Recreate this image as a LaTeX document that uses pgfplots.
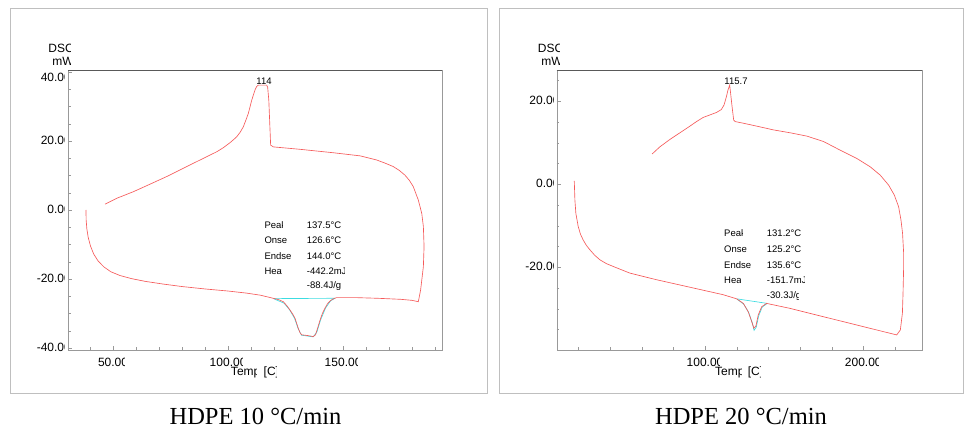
\documentclass[border=0pt]{standalone}
\usepackage{fontspec}
\setmainfont{Liberation Sans}
\newfontfamily\serif{Liberation Serif}
\usepackage{pgfplots}
\pgfplotsset{compat=1.18}

\definecolor{dscred}{RGB}{245,90,90}
\definecolor{dsccyan}{RGB}{60,220,225}

% text cut off on the right, as the instrument software does
\newlength\clpw
\newlength\clpf
\newcommand{\clp}[2][3.5bp]{%
  \settowidth{\clpf}{#2}\setlength{\clpw}{\clpf}\addtolength{\clpw}{-#1}%
  \tikz[baseline=0pt]{\path[use as bounding box] (0,-0.25em) rectangle (\clpf,0.85em);
    \clip (0,-0.4em) rectangle (\clpw,1.1em);
    \node[anchor=base west,inner sep=0pt,outer sep=0pt] at (0,0) {#2};}}

\pgfplotsset{dsc/.style={
  scale only axis, anchor=south west,
  axis line style={black!40}, tick style={black!40},
  tick pos=left, tick align=inside,
  major tick length=4bp, minor tick length=2.5bp,
  tick label style={font=\fontsize{12bp}{14bp}\selectfont, inner sep=0pt},
  yticklabel style={anchor=east, xshift=3bp},
  xticklabel style={anchor=north, yshift=-3bp},
  xlabel style={at={(axis description cs:0.5,0)}, anchor=north, inner sep=0pt,
    yshift=-15.5bp, font=\fontsize{12bp}{14bp}\selectfont},
  xlabel={\clp{Temp} \clp[2.5bp]{[C]}},
  every axis plot/.append style={line width=0.65bp},
}}

\begin{document}
\begin{tikzpicture}
\path[use as bounding box] (0,0) rectangle (965bp,430bp);
\draw[black!25] (10bp,37bp) rectangle (487bp,422bp);
\draw[black!25] (499bp,37bp) rectangle (963bp,422bp);

% HDPE 10 C/min
\begin{axis}[dsc, at={(68bp,80bp)}, width=374bp, height=280bp,
  xmin=30.4, xmax=193, ymin=-40.6, ymax=40.6,
  xtick={50,100,150}, xticklabels={\clp{50.00},\clp{100.00},\clp{150.00}},
  minor xtick={40,60,70,80,90,110,120,130,140,160,170,180,190},
  ytick={-40,-20,0,20,40},
  yticklabels={\clp{-40.00},\clp{-20.00},\clp{0.00},\clp{20.00},\raisebox{-9.3bp}[0pt][0pt]{\clp{40.00}}},
  minor ytick={-35,-30,-25,-15,-10,-5,5,10,15,25,30,35}]
\addplot[dsccyan] coordinates {(119.7,-25.7)(146.5,-25.6)};
\addplot[dsccyan] coordinates {(120,-25.8)(124.3,-27.0)(126.7,-28.9)(128.9,-31.4)(130.4,-34.3)(131.9,-36.3)(137,-36.8)(138.6,-35.4)(140.2,-31.9)(142.4,-28.4)(144.6,-26.3)(146.5,-25.6)};
\addplot[dscred] coordinates {
(38.2,0.0)(38.3,-3.0)(38.6,-5.5)(39.2,-8.0)(40.2,-10.5)(41.6,-12.8)(43.5,-14.8)(46.0,-16.5)
(49.0,-17.9)(53.0,-19.0)(58.0,-19.9)(64.0,-20.7)(72.0,-21.5)(80.0,-22.2)(90.0,-22.9)(100.0,-23.5)
(108.0,-24.1)(114.0,-24.7)(119.0,-25.5)(122.0,-26.0)(124.0,-26.6)(125.6,-27.8)(126.9,-29.0)(128.1,-30.2)(129.1,-31.4)
(130.5,-34.3)(131.3,-35.6)(132.0,-36.2)(134.5,-36.4)(137.0,-36.7)(138.0,-36.2)(138.8,-34.5)(140.0,-31.9)(141.0,-30.0)(142.1,-28.5)(143.2,-27.2)(144.3,-26.4)(145.6,-25.8)
(147.2,-25.4)(155.0,-25.4)(165.0,-25.6)(175.0,-25.9)(180.0,-26.2)(182.7,-26.6)(183.7,-23.2)
(184.9,-16.4)(185.2,-10.6)(184.9,-4.8)(184.2,-1.0)(182.7,2.9)(180.5,6.8)(178.8,8.6)(176.9,10.1)(174.4,11.5)(171.8,12.6)
(168.2,13.6)(164.6,14.5)(157.4,15.7)(145.8,16.6)(131.3,17.6)(119.7,18.3)(118.5,18.8)(117.7,31.9)(117.2,35.6)(116.8,36.2)
(113.1,36.2)(112.4,35.8)(111.7,34.8)(110.3,31.9)(108.8,28.0)(107.7,26.0)(106.6,24.1)(105.2,22.5)(103.7,21.2)(102.2,20.3)(100.8,19.5)(98.0,18.1)(95.1,16.9)
(87.8,14.5)(80.5,12.1)(73.3,9.7)(66.1,7.5)(58.8,5.3)(51.6,3.4)(46.5,1.7)};
\end{axis}
\draw[black!65] (68bp,360bp) -- (442bp,360bp);

% HDPE 20 C/min
\begin{axis}[dsc, at={(556.7bp,80bp)}, width=365bp, height=279.3bp,
  xmin=6.3, xmax=236.9, ymin=-39.93, ymax=27.37,
  xtick={100,200}, xticklabels={\clp{100.00},\clp{200.00}},
  minor xtick={20,40,60,80,120,140,160,180,220},
  ytick={-20,0,20}, yticklabels={\clp{-20.00},\clp{0.00},\clp{20.00}},
  minor ytick={-35,-30,-25,-15,-10,-5,5,10,15,25}]
\addplot[dsccyan] coordinates {(120.0,-27.6)(139.3,-28.7)};
\addplot[dsccyan] coordinates {(120.3,-27.7)(124.5,-28.9)(127.6,-30.9)(129.8,-33.3)(131.0,-35.2)(132.4,-34.4)(133.9,-31.7)(136.1,-29.6)(139.3,-28.7)};
\addplot[dscred] coordinates {
(17.4,0.8)(17.8,-3.8)(18.4,-7.0)(19.9,-10.2)(21.3,-12.0)(23.0,-13.4)(25.0,-14.7)(27.3,-15.8)(30.3,-17.1)(33.6,-18.2)(37.6,-19.1)(42.0,-19.8)
(52.5,-21.4)(69.4,-23.0)(90.4,-24.8)(111.4,-26.6)(120.0,-27.6)(124.2,-28.7)(127.3,-30.7)
(129.5,-33.1)(130.9,-34.7)(132.2,-34.1)(133.6,-31.5)(135.8,-29.5)(138.9,-28.7)(153.7,-29.9)
(174.7,-31.9)(195.8,-33.9)(221.1,-36.3)(223.4,-35.1)(224.7,-31.1)(225.1,-26.3)(225.5,-19.8)
(225.5,-16.6)(224.8,-11.8)(223.8,-8.6)(222.3,-5.4)(219.6,-2.6)(216.0,-0.2)(210.7,2.2)(204.4,4.2)
(196.0,6.2)(185.5,8.2)(174.9,10.3)(164.4,11.6)(153.9,12.4)(143.3,13.1)(132.8,14.0)(124.4,14.7)
(119.1,15.1)(118.1,15.5)(117.1,18.7)(115.6,23.9)(114.5,22.7)(113.5,21.1)(112.0,19.1)(110.3,18.0)
(107.2,17.3)(103.0,16.7)(98.8,16.1)(94.6,15.1)(90.4,14.0)(84.1,12.4)(77.8,10.8)(71.4,9.0)(66.6,7.3)};
\end{axis}
\draw[black!65] (556.7bp,359.3bp) -- (921.7bp,359.3bp);

% axis titles
\begin{scope}[every node/.style={inner sep=0pt, anchor=base east, font=\fontsize{12bp}{14bp}\selectfont}]
\node at (74bp,377.5bp) {\clp{DSC}};
\node at (74bp,364.5bp) {\clp{mW}};
\node at (563.5bp,377.5bp) {\clp{DSC}};
\node at (563bp,364.5bp) {\clp{mW}};
\end{scope}

% peak labels and analysis results
\begin{scope}[every node/.style={inner sep=0pt, anchor=base west, font=\fontsize{9.5bp}{11bp}\selectfont}]
\node[anchor=base] at (264bp,345.7bp) {114};
\node[anchor=base] at (736bp,345.7bp) {115.7};
\node at (264.3bp,201.7bp) {\clp{Peak}};
\node at (264.3bp,186.7bp) {\clp{Onset}};
\node at (264.3bp,170.7bp) {\clp{Endset}};
\node at (264.3bp,155.0bp) {\clp{Heat}};
\node at (306.7bp,201.7bp) {137.5°C};
\node at (306.7bp,186.7bp) {126.6°C};
\node at (306.7bp,170.7bp) {144.0°C};
\node at (306.7bp,155.0bp) {\clp[2.5bp]{-442.2mJ}};
\node at (306.7bp,141.7bp) {-88.4J/g};
\node at (724bp,193.3bp) {\clp{Peak}};
\node at (724bp,177.7bp) {\clp{Onset}};
\node at (724bp,161.7bp) {\clp{Endset}};
\node at (724bp,146.0bp) {\clp{Heat}};
\node at (766.7bp,193.3bp) {131.2°C};
\node at (766.7bp,177.7bp) {125.2°C};
\node at (766.7bp,161.7bp) {135.6°C};
\node at (766.7bp,146.0bp) {\clp[2.5bp]{-151.7mJ}};
\node at (766.7bp,131.0bp) {\clp[2.5bp]{-30.3J/g}};
\end{scope}

% captions
\node[inner sep=0pt, anchor=base, font=\serif\fontsize{24.5bp}{28bp}\selectfont] at (255.5bp,5.7bp) {HDPE 10 °C/min};
\node[inner sep=0pt, anchor=base, font=\serif\fontsize{24.5bp}{28bp}\selectfont] at (741bp,5.7bp) {HDPE 20 °C/min};
\end{tikzpicture}
\end{document}
